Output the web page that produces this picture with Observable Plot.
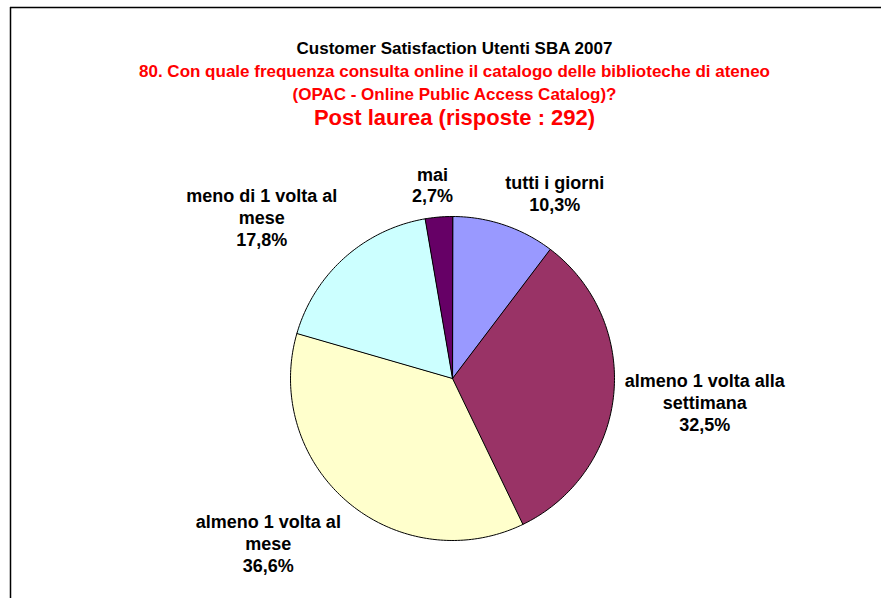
<!DOCTYPE html>
<html>
<head>
<meta charset="utf-8">
<script src="https://cdn.jsdelivr.net/npm/d3@7"></script>
<script src="https://cdn.jsdelivr.net/npm/@observablehq/plot@0.6"></script>
<style>
  html, body { margin: 0; padding: 0; background: #fff; overflow: hidden; }
  #chart svg { overflow: hidden; display: block; }
</style>
</head>
<body>
<div id="chart"></div>
<script>
// ---- data ----
const categories = ["tutti i giorni", "almeno 1 volta alla settimana", "almeno 1 volta al mese", "meno di 1 volta al mese", "mai"];
const values = [10.3, 32.5, 36.6, 17.8, 2.7];
const colors = ["#9999FF", "#993366", "#FFFFCC", "#CCFFFF", "#660066"];
const titleLines = [
  "Customer Satisfaction Utenti SBA 2007",
  "80. Con quale frequenza consulta online il catalogo delle biblioteche di ateneo",
  "(OPAC - Online Public Access Catalog)?",
  "Post laurea (risposte : 292)"
];

// ---- layout ----
const W = 881, H = 598;
const CX = 452, CY = 378, R = 162, GAP = 11;
const FONT = "'Liberation Sans', Arial, Helvetica, sans-serif";
const LABEL_SIZE = 18, LABEL_LH = 1.2, WRAP = 165;

const ctx = document.createElement("canvas").getContext("2d");
ctx.font = `bold ${LABEL_SIZE}px ${FONT}`;
const measure = s => ctx.measureText(s).width;
function wrap(text) {
  const words = text.split(" ");
  const lines = [];
  let cur = "";
  for (const w of words) {
    const t = cur ? cur + " " + w : w;
    if (cur && measure(t) > WRAP) { lines.push(cur); cur = w; } else cur = t;
  }
  if (cur) lines.push(cur);
  return lines;
}
const fmt = v => v.toFixed(1).replace(".", ",") + "%";
const clamp = v => Math.max(0, Math.min(1, v));

const arcs = d3.pie().sort(null).value(d => d)(values);

// slice polygons
const slicePts = [];
arcs.forEach((a, i) => {
  const n = Math.max(2, Math.ceil((a.endAngle - a.startAngle) / (Math.PI / 180)));
  slicePts.push({k: i, x: CX, y: CY, color: colors[i]});
  for (let j = 0; j <= n; j++) {
    const t = a.startAngle + (a.endAngle - a.startAngle) * j / n;
    slicePts.push({k: i, x: CX + R * Math.sin(t), y: CY - R * Math.cos(t), color: colors[i]});
  }
});

// labels
const labels = arcs.map((a, i) => {
  const m = (a.startAngle + a.endAngle) / 2;
  const s = Math.sin(m), c = Math.cos(m);
  const px = CX + (R + GAP) * s, py = CY - (R + GAP) * c;
  const lines = [...wrap(categories[i]), fmt(values[i])];
  const w = d3.max(lines, measure);
  const h = lines.length * LABEL_SIZE * LABEL_LH;
  const fx = clamp(0.5 - 1.5 * s), fy = clamp(0.5 + 1.0 * c);
  return {x: px + (0.5 - fx) * w, y: py + (0.5 - fy) * h, text: lines.join("\n")};
});

const titles = [
  {text: titleLines[0], y: 53, size: 17, color: "#000"},
  {text: titleLines[1], y: 76, size: 17, color: "#FF0000"},
  {text: titleLines[2], y: 99, size: 17, color: "#FF0000"},
  {text: titleLines[3], y: 124, size: 22, color: "#FF0000"}
];

const plot = Plot.plot({
  width: W, height: H,
  margin: 0,
  x: {domain: [0, W], range: [0, W], axis: null},
  y: {domain: [0, H], range: [0, H], axis: null},
  color: {type: "identity"},
  style: {fontFamily: FONT, background: "#fff"},
  marks: [
    Plot.ruleY([7], {x1: 10, x2: W, stroke: "#000", strokeWidth: 1.5}),
    Plot.ruleX([10], {y1: 7, y2: H, stroke: "#000", strokeWidth: 1.5}),
    Plot.line(slicePts, {x: "x", y: "y", z: "k", fill: "color", stroke: "#000", strokeWidth: 1, curve: "linear-closed"}),
    ...titles.map(t => Plot.text([t], {x: () => 454, y: "y", text: "text", fill: t.color, fontSize: t.size, fontWeight: "bold", lineAnchor: "bottom", textAnchor: "middle"})),
    Plot.text(labels, {x: "x", y: "y", text: "text", fill: "#000", fontSize: LABEL_SIZE, fontWeight: "bold", lineHeight: LABEL_LH, lineAnchor: "middle", textAnchor: "middle"})
  ]
});
document.getElementById("chart").appendChild(plot);
</script>
</body>
</html>
